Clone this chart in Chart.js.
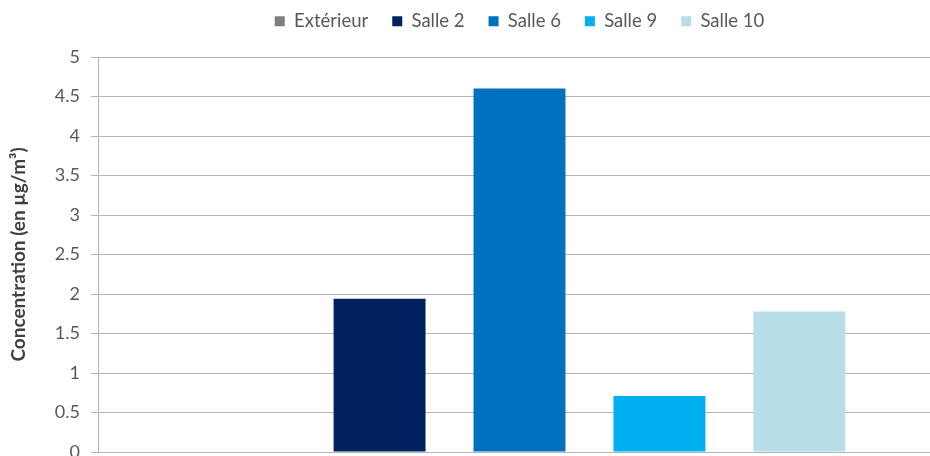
<!DOCTYPE html>
<html>
<head>
<meta charset="utf-8">
<script src="https://cdn.jsdelivr.net/npm/chart.js@4"></script>
<style>
  html, body { margin: 0; padding: 0; overflow: hidden; background: #fff; }
  #wrap { width: 930px; height: 456px; overflow: hidden; }
  #chart { margin-top: -12px; display: block; }
</style>
</head>
<body>
<div id="wrap"><canvas id="chart" width="944" height="468"></canvas></div>
<script>
// data
const category = ['Concentration'];
const seriesNames = ['Extérieur', 'Salle 2', 'Salle 6', 'Salle 9', 'Salle 10'];
const seriesValues = [0, 1.94, 4.6, 0.71, 1.78];
const yTickValues = [0, 0.5, 1, 1.5, 2, 2.5, 3, 3.5, 4, 4.5, 5];

const seriesColors = ['#7f7f7f', '#002060', '#0070c0', '#00b0f0', '#b7dde8'];
const gridGrey = '#b4b4b4';
const textGrey = '#595959';

const datasets = seriesNames.map((name, i) => ({
  label: name,
  data: [seriesValues[i]],
  backgroundColor: seriesColors[i],
  borderWidth: 0,
  categoryPercentage: 0.83,
  barPercentage: 0.657
}));

// give the legend a fixed height so the plot starts where it should
const legendHeight = {
  id: 'legendHeight',
  beforeInit(chart) {
    const fit = chart.legend.fit;
    chart.legend.fit = function () {
      fit.call(this);
      this.height = 69;
    };
  }
};

const ctx = document.getElementById('chart').getContext('2d');
const chart = new Chart(ctx, {
  type: 'bar',
  data: { labels: category, datasets: datasets },
  plugins: [legendHeight],
  options: {
    responsive: false,
    animation: false,
    locale: 'en-US',
    layout: { padding: { left: 0, right: 3, top: 0, bottom: 4 } },
    plugins: {
      tooltip: { enabled: false },
      legend: {
        fullSize: false,
        labels: {
          boxWidth: 10,
          boxHeight: 10,
          padding: 24,
          color: textGrey,
          font: { family: 'Lato', size: 18.5 }
        }
      }
    },
    scales: {
      x: {
        ticks: { display: false },
        grid: { display: false, drawTicks: false },
        border: { display: true, color: gridGrey, width: 1 },
        afterFit(s) { s.height = 0; }
      },
      y: {
        min: 0,
        max: 5,
        afterBuildTicks(s) { s.ticks = yTickValues.map(v => ({ value: v })); },
        ticks: {
          padding: 11,
          color: textGrey,
          font: { family: 'Lato', size: 18 },
          callback: v => String(v)
        },
        grid: { color: gridGrey, lineWidth: 1, tickLength: 7 },
        border: { color: gridGrey, width: 1 },
        title: {
          display: true,
          text: 'Concentration (en µg/m³)',
          color: '#404040',
          font: { family: 'Lato', size: 19, weight: 'bold' },
          padding: { top: 7, bottom: 0 }
        },
        afterFit(s) {
          s.width = 98;
          s.paddingTop = 0;
          s.paddingBottom = 0;
        }
      }
    }
  }
});
</script>
</body>
</html>
